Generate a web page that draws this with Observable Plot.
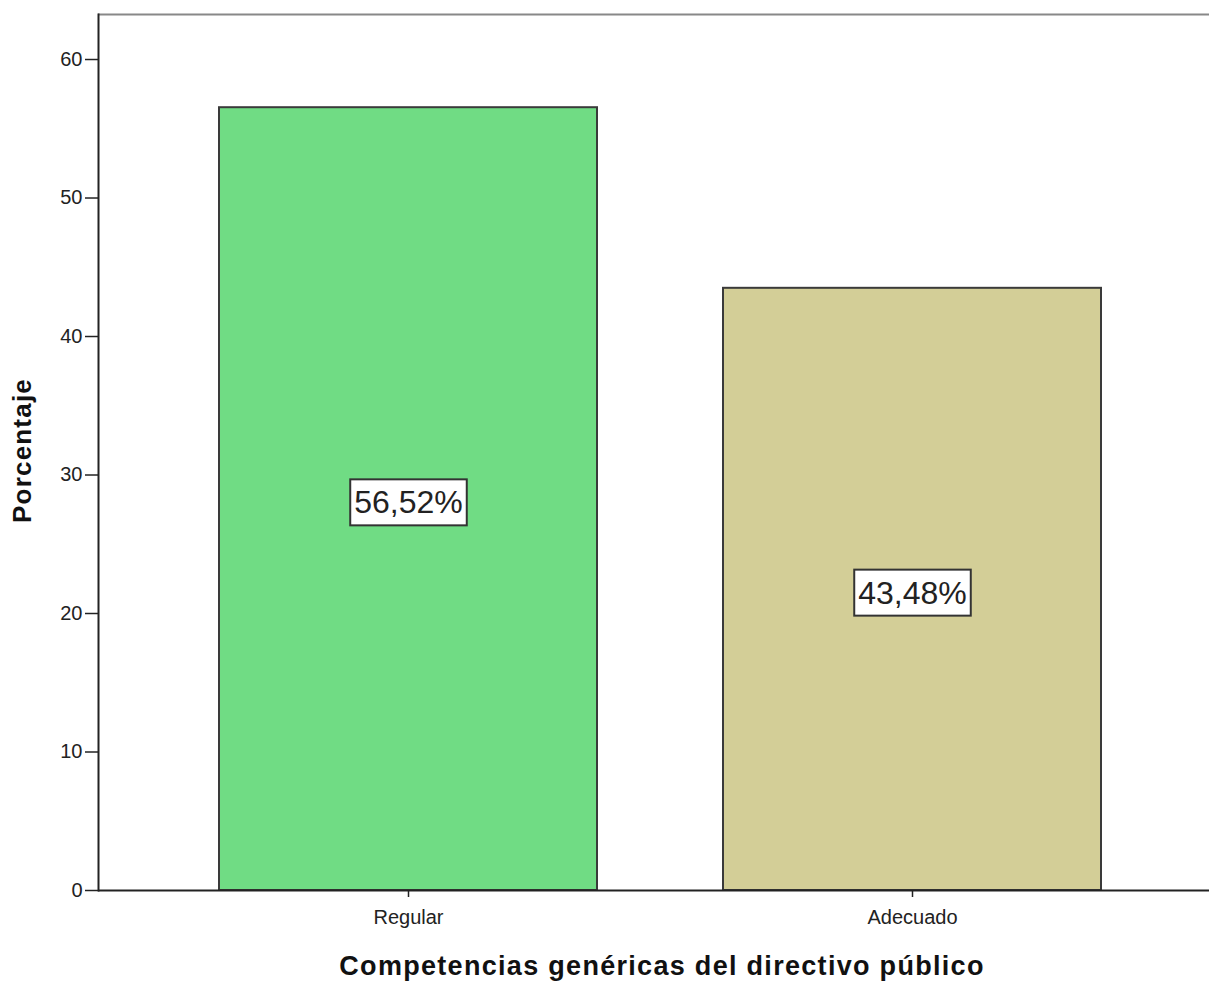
<!DOCTYPE html>
<html>
<head>
<meta charset="utf-8">
<script src="https://cdn.jsdelivr.net/npm/d3@7"></script>
<script src="https://cdn.jsdelivr.net/npm/@observablehq/plot@0.6"></script>
<style>
  html, body { margin: 0; padding: 0; background: #fff; }
  #chart { width: 1209px; height: 982px; }
  svg { font-family: Arial, "Liberation Sans", sans-serif; }
</style>
</head>
<body>
<div id="chart"></div>
<script>
const categories = ["Regular", "Adecuado"];
const percentages = [56.52, 43.48];
const labels = ["56,52%", "43,48%"];
const barColors = ["#70dc84", "#d3ce97"];
const yTicks = [0, 10, 20, 30, 40, 50, 60];
const yMax = 63.25;

const data = categories.map((c, i) => ({ cat: c, value: percentages[i], label: labels[i], color: barColors[i] }));

const plot = Plot.plot({
  width: 1209,
  height: 982,
  marginLeft: 98,
  marginTop: 14,
  marginBottom: 92,
  marginRight: 0,
  style: { fontFamily: "Arial, 'Liberation Sans', sans-serif", background: "#fff", overflow: "hidden" },
  x: { domain: categories, range: [98, 1222], paddingInner: 0.25, paddingOuter: 0.238, label: null },
  y: { domain: [0, yMax], label: null },
  marks: [
    Plot.barY(data, { x: "cat", y: "value", fill: "color", stroke: "#3a3a3a", strokeWidth: 2 }),
    Plot.ruleY([yMax], { stroke: "#888", strokeWidth: 2 }),
    Plot.ruleY([0], { stroke: "#222", strokeWidth: 2 }),
    Plot.frame({ anchor: "left", stroke: "#222", strokeWidth: 2 }),
    Plot.axisY({ ticks: yTicks, tickSize: 13, tickPadding: 3, fontSize: 20, stroke: "#222", strokeWidth: 1.5, color: "#222", label: null }),
    Plot.axisX({ tickSize: 7, tickPadding: 12, fontSize: 20, stroke: "#222", strokeWidth: 1.5, color: "#222", label: null }),
    Plot.text(data, { x: "cat", y: d => d.value / 2, text: "label", fontSize: 32, fill: "#222", dy: 4, className: "barlabel" }),
    Plot.text(["Competencias genéricas del directivo público"], { frameAnchor: "bottom", dy: 84, fontSize: 27, fontWeight: "bold", fill: "#111", dx: 8, className: "xtitle" }),
    Plot.text(["Porcentaje"], { frameAnchor: "left", textAnchor: "middle", dx: -76, dy: -2, rotate: -90, fontSize: 26, fontWeight: "bold", fill: "#111", className: "ytitle" })
  ]
});

document.getElementById("chart").appendChild(plot);
d3.select(plot).selectAll("g.xtitle text").style("letter-spacing", "1.3px");
d3.select(plot).selectAll("g.ytitle text").style("letter-spacing", "1.2px");

// white boxes behind the bar value labels
d3.select(plot).selectAll("g.barlabel text").each(function () {
  const bb = this.getBBox();
  const padX = 4, padY = 5;
  d3.select(this.parentNode).insert("rect", () => this)
    .attr("x", bb.x - padX)
    .attr("y", bb.y - padY)
    .attr("width", bb.width + 2 * padX)
    .attr("height", bb.height + 2 * padY)
    .attr("fill", "#fff")
    .attr("stroke", "#333")
    .attr("stroke-width", 2)
    .attr("transform", this.getAttribute("transform"));
});
</script>
</body>
</html>
